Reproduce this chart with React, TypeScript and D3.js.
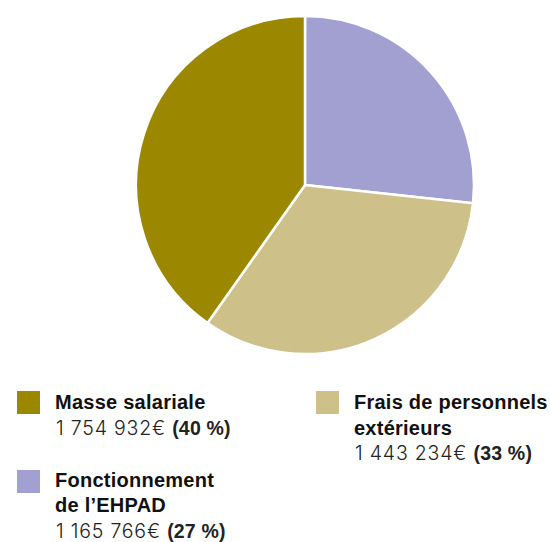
import React from "react";
import * as d3 from "d3";

const categories = ["Fonctionnement de l’EHPAD", "Frais de personnels extérieurs", "Masse salariale"];
const values = [1165766, 1443234, 1754932];
const valueLabels = ["1 165 766€", "1 443 234€", "1 754 932€"];
const percentLabels = ["(27 %)", "(33 %)", "(40 %)"];
const colors = ["#a1a0d1", "#cdc089", "#9c8700"];

const W = 550, H = 542;
const cx = 305, cy = 185, R = 169;

export default function App() {
  const pie = d3.pie<number>().sort(null).value((d) => d)(values);
  const arc = d3.arc<d3.PieArcDatum<number>>().innerRadius(0).outerRadius(R);
  const bold = "'Liberation Sans', Arial, sans-serif";
  const light = "Inter, Roboto, sans-serif";

  const legends = [
    { i: 2, x: 17, y: 391, base: 409, lines: ["Masse salariale"] },
    { i: 1, x: 316, y: 391, base: 409, lines: ["Frais de personnels", "extérieurs"] },
    { i: 0, x: 17, y: 470, base: 486.5, lines: ["Fonctionnement", "de l’EHPAD"] },
  ];
  const lh = 25.7;

  return (
    <svg width={W} height={H} style={{ position: "absolute", left: 0, top: 0 }}>
      <g transform={`translate(${cx},${cy})`}>
        {pie.map((p, k) => (
          <path key={k} d={arc(p) || ""} fill={colors[k]} stroke="#fff" strokeWidth={2.5} strokeLinejoin="round" />
        ))}
      </g>
      {legends.map((l, k) => (
        <g key={k}>
          <rect x={l.x} y={l.y} width={23} height={23} fill={colors[l.i]} />
          {l.lines.map((t, j) => (
            <text key={j} x={l.x + 38} y={l.base + j * lh} fontSize={20} fontWeight={700} letterSpacing={0.25} fontFamily={bold} fill="#111">{t}</text>
          ))}
          <text x={l.x + 39} y={l.base + l.lines.length * lh} fontSize={19.5} fill="#222">
            <tspan fontWeight={300} fontFamily={light} letterSpacing={0.8}>{valueLabels[l.i]} </tspan>
            <tspan fontWeight={700} fontFamily={bold} letterSpacing={0.2}>{percentLabels[l.i]}</tspan>
          </text>
        </g>
      ))}
    </svg>
  );
}
